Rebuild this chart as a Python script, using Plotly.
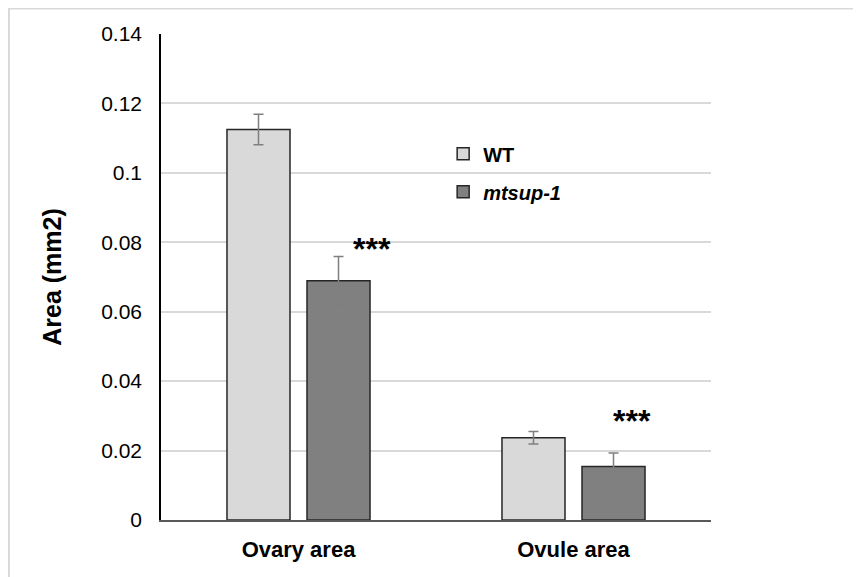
import plotly.graph_objects as go

categories = ["Ovary area", "Ovule area"]
wt_values = [0.1125, 0.0237]
wt_errors = [0.0044, 0.0018]
mt_values = [0.0689, 0.0154]
mt_errors = [0.0070, 0.0039]
star_labels = ["***", "***"]
star_y = [0.0782, 0.0286]
tick_vals = [0, 0.02, 0.04, 0.06, 0.08, 0.1, 0.12, 0.14]
tick_text = ["0", "0.02", "0.04", "0.06", "0.08", "0.1", "0.12", "0.14"]

FONT = "Liberation Sans, Arial, sans-serif"

fig = go.Figure()
fig.add_trace(go.Bar(
    x=categories, y=wt_values, name="<b>WT</b>",
    marker=dict(color="#d9d9d9", line=dict(color="#262626", width=1.5)),
    error_y=dict(type="data", array=wt_errors, color="#7f7f7f", thickness=1.5, width=5),
    legendgroup="a",
))
fig.add_trace(go.Bar(
    x=categories, y=mt_values, name="<b><i>mtsup-1</i></b>",
    marker=dict(color="#808080", line=dict(color="#262626", width=1.5)),
    error_y=dict(type="data", array=mt_errors, color="#7f7f7f", thickness=1.5, width=5),
    legendgroup="b",
))

for cat, lab, yy, shift in zip(categories, star_labels, star_y, [73, 58]):
    fig.add_annotation(x=cat, y=yy, xref="x", yref="y", text="<b>" + lab + "</b>",
                       showarrow=False, xshift=shift, font=dict(size=32, color="black", family=FONT))

# outer frame
fig.add_shape(type="rect", xref="paper", yref="paper", x0=-0.2764, y0=-1, x1=2, y1=1.0525,
              line=dict(color="#d9d9d9", width=2), layer="below")

fig.update_layout(
    width=861, height=577,
    margin=dict(l=153, r=158, t=26, b=65, autoexpand=False),
    paper_bgcolor="white", plot_bgcolor="white",
    font=dict(family=FONT, color="black"),
    barmode="group", bargap=0.418, bargroupgap=0.2125,
    showlegend=True,
    legend=dict(x=0.513, y=0.7935, xanchor="left", yanchor="top", bgcolor="rgba(0,0,0,0)",
                font=dict(size=20, color="black", family=FONT), tracegroupgap=9,
                traceorder="grouped"),
    xaxis=dict(showgrid=False, showline=True, linecolor="#595959", linewidth=2,
               ticks="", tickfont=dict(size=22, family=FONT, color="black"),
               ticklabelstandoff=9, tickprefix="<b>", ticksuffix="</b>"),
    yaxis=dict(range=[0, 0.14], tickvals=tick_vals, ticktext=tick_text,
               showgrid=True, gridcolor="#d9d9d9", gridwidth=2,
               showline=True, linecolor="black", linewidth=1.5, zeroline=False,
               ticks="", tickfont=dict(size=21, family=FONT, color="black"),
               ticklabelstandoff=13,
               title=dict(text="<b>Area (mm2)</b>", font=dict(size=25, family=FONT, color="black"),
                          standoff=32)),
)

fig.write_html("out.html")
